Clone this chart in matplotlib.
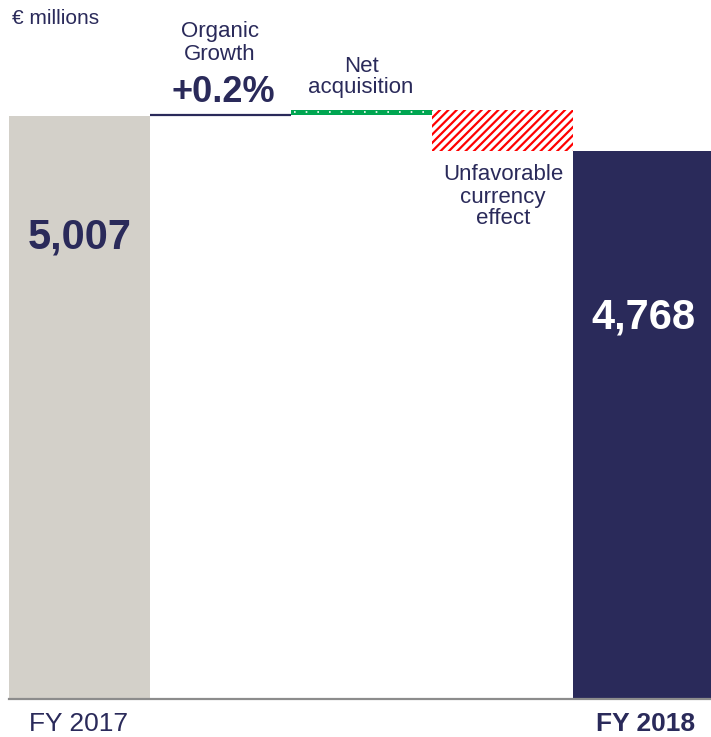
import matplotlib
matplotlib.use("Agg")
import matplotlib.pyplot as plt
import numpy as np

plt.rcParams['font.family'] = ['Liberation Sans', 'DejaVu Sans']
plt.rcParams['hatch.linewidth'] = 1.6

# ---- data ----
categories = ["FY 2017", "Organic Growth", "Net acquisition", "Unfavorable currency effect", "FY 2018"]
start_value = 5007
end_value = 4768
organic_change = 10
acquisition_change = 30
currency_change = -(start_value + organic_change + acquisition_change - end_value)
organic_label = "+0.2%"
start_label = "5,007"
end_label = "4,768"
unit_label = "€ millions"

NAVY = "#2A2A5A"
GREY = "#D3D0C9"
GREEN = "#00A651"
RED = "#FF0000"

W, H = 711, 737
fig = plt.figure(figsize=(W / 100, H / 100), dpi=100)
# axes placed in pixel coordinates
left, right, bottom, top = 9, 714, 699, 99
ax = fig.add_axes([left / W, 1 - bottom / H, (right - left) / W, (bottom - top) / H])

ymin, ymax = 1025, 5123
x = np.arange(len(categories))

# FY2017
ax.bar(x[0], start_value - ymin, bottom=ymin, width=1.0, color=GREY, linewidth=0)
# Organic growth
lvl1 = start_value + organic_change
ax.bar(x[1], organic_change, bottom=start_value, width=1.0, color=NAVY, linewidth=0)
ax.hlines(lvl1, x[1] - 0.5, x[1] + 0.5, color=NAVY, linewidth=1.6)
# Net acquisition
lvl2 = lvl1 + acquisition_change
ax.bar(x[2], acquisition_change, bottom=lvl1, width=1.0, color=GREEN, linewidth=0)
ax.hlines((lvl1 + lvl2) / 2 + 3, x[2] - 0.48, x[2] + 0.48, color="white",
          linewidth=1.2, linestyles=(0, (1, 6)))
# Currency effect
lvl3 = lvl2 + currency_change
ax.bar(x[3], currency_change, bottom=lvl2, width=1.0, color="white",
       edgecolor=RED, hatch="////", linewidth=0)
# FY2018
ax.bar(x[4], end_value - ymin, bottom=ymin, width=1.0, color=NAVY, linewidth=0)

ax.set_xlim(-0.5, 4.5)
ax.set_ylim(ymin, ymax)
for s in ["top", "right", "left"]:
    ax.spines[s].set_visible(False)
ax.spines["bottom"].set_color("#8C8C8C")
ax.spines["bottom"].set_linewidth(1.6)
ax.set_xticks([])
ax.set_yticks([])
ax.patch.set_alpha(0)


def ftext(px, py, s, **kw):
    fig.text(px / W, 1 - py / H, s, **kw)


# value labels
ax.text(x[0], 4174, start_label, ha="center", va="center", fontsize=30,
        fontweight="bold", color=NAVY)
ax.text(x[4], 3634, end_label, ha="center", va="center", fontsize=30,
        fontweight="bold", color="white")

# annotations
ftext(12, 19, unit_label, ha="left", va="center", fontsize=15, color=NAVY)
ftext(220, 31, "Organic", ha="center", va="center", fontsize=16, color=NAVY)
ftext(220, 54, "Growth", ha="center", va="center", fontsize=16, color=NAVY)
ftext(223, 92, organic_label, ha="center", va="center", fontsize=26,
      fontweight="bold", color=NAVY)
ftext(361, 66, "Net", ha="center", va="center", fontsize=16, color=NAVY)
ftext(361, 88, "acquisition", ha="center", va="center", fontsize=16, color=NAVY)
ftext(503, 175, "Unfavorable", ha="center", va="center", fontsize=16, color=NAVY)
ftext(503, 197, "currency", ha="center", va="center", fontsize=16, color=NAVY)
ftext(503, 218, "effect", ha="center", va="center", fontsize=16, color=NAVY)

# category labels
ftext(79, 724, categories[0], ha="center", va="center", fontsize=19, color=NAVY)
ftext(646, 724, categories[4], ha="center", va="center", fontsize=19,
      fontweight="bold", color=NAVY)

fig.savefig("out.png", dpi=100)
